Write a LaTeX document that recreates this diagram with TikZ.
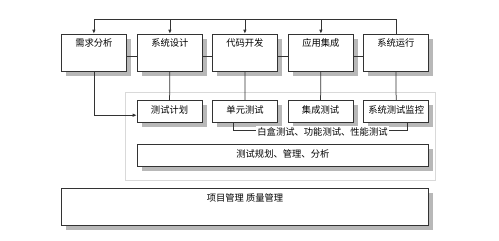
\documentclass[tikz,border=0pt]{standalone}
\usepackage{fontspec}
\newfontfamily\cjk{Noto Sans CJK SC}
\usetikzlibrary{shadows,arrows.meta}
\begin{document}
\begin{tikzpicture}[x=1pt,y=-1pt,
  box/.style={draw=black!80, line width=0.75pt, fill=white, inner sep=0pt,
    drop shadow={shadow xshift=4.5pt,shadow yshift=-4.5pt,fill=black!28,opacity=1},
    font=\cjk\fontsize{9.3}{10}\selectfont, anchor=north west},
  topbox/.style={box, minimum width=65pt, text height=12.5pt, text depth=24.5pt},
  lowbox/.style={box, minimum width=65pt, text height=13pt, text depth=8.7pt},
  conn/.style={draw=black!80, line width=0.75pt},
  arr/.style={conn,-{Latex[length=4pt,width=3.5pt]}},
  region/.style={draw=black!15, line width=1pt},
  lbl/.style={fill=white, inner sep=1pt, font=\cjk\fontsize{9.3}{10}\selectfont, anchor=base}]
\useasboundingbox (0,0) rectangle (499,241);

% light region
\draw[region] (125.3,92.3) rectangle (435.3,180.7);

% top boxes
\node[topbox] (a1) at (61,33.7) {需求分析};
\node[topbox] (a2) at (137,33.7) {系统设计};
\node[topbox] (a3) at (212,33.7) {代码开发};
\node[topbox] (a4) at (288,33.7) {应用集成};
\node[topbox] (a5) at (363,33.7) {系统运行};

% lower boxes
\node[lowbox] (b1) at (136.7,100) {测试计划};
\node[lowbox] (b2) at (212.2,100) {单元测试};
\node[lowbox] (b3) at (287.7,100) {集成测试};
\node[lowbox] (b4) at (363.3,100) {系统测试监控};

% wide boxes
\node[box, minimum width=291.6pt, text height=13pt, text depth=9pt] (c1) at (136.7,144) {测试规划、管理、分析};
\node[box, minimum width=367.3pt, text height=13.3pt, text depth=24pt] (d1) at (61,187.7) {项目管理\ 质量管理};

% top feedback line
\coordinate (tl) at (0,19);
\draw[arr] (a5.north) -- (a5.north |- tl) -| (a1.north);
\draw[arr] (a2.north |- tl) -- (a2.north);
\draw[arr] (a3.north |- tl) -- (a3.north);
\draw[arr] (a4.north |- tl) -- (a4.north);

% horizontal links between top boxes
\coordinate (hl) at (0,56);
\draw[conn] (a1.east |- hl) -- (a2.west |- hl);
\draw[conn] (a2.east |- hl) -- (a3.west |- hl);
\draw[conn] (a3.east |- hl) -- (a4.west |- hl);
\draw[conn] (a4.east |- hl) -- (a5.west |- hl);

% verticals to test boxes
\draw[conn] (a2.south) -- (b1.north);
\draw[conn] (a3.south) -- (b2.north);
\draw[conn] (a4.south) -- (b3.north);
\draw[conn] (a5.south) -- (b4.north);
\draw[arr] (a1.south) |- ([yshift=-4pt]b1.west);

% bracket
\draw[conn] ([xshift=-12pt]b2.south) -- ++(0,7.6) -| ([xshift=11.3pt]b4.south);
\node[lbl] (w1) at (322.5,135) {白盒测试、功能测试、性能测试};
\end{tikzpicture}
\end{document}
